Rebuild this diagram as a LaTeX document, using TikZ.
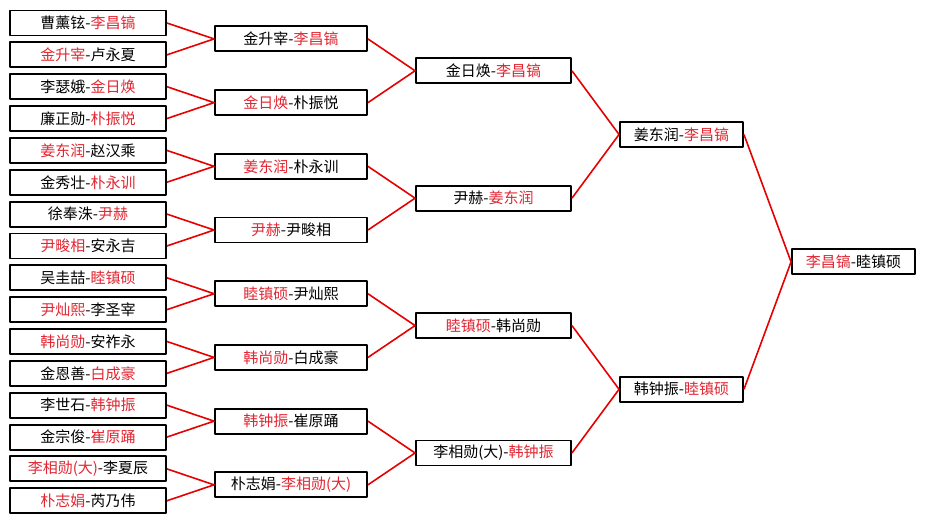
\documentclass[tikz,border=0pt]{standalone}
\usepackage{fontspec}
\setmainfont{Noto Sans CJK SC}

\definecolor{winred}{RGB}{226,38,50}
\definecolor{linered}{RGB}{230,0,0}
\newcommand{\win}[1]{\textcolor{winred}{#1}}

\begin{document}
\begin{tikzpicture}[
		x=1pt, y=-1pt,
		line join=round,
		font=\fontsize{15}{17}\selectfont,
		match/.style={draw=black, line width=1.9pt, fill=white, minimum height=25pt, inner sep=0pt},
		link/.style={draw=linered, line width=1.6pt}
	]
	\useasboundingbox[fill=white] (0,0) rectangle (925,525);
	
	% Parameters
	\def\ystart{23}
	\def\pitch{31.85}
	
	% Round 1
	\foreach \i/\txt in {
		1/{曹薰铉-\win{李昌镐}}, 2/{\win{金升宰}-卢永夏},
		3/{李瑟娥-\win{金日焕}}, 4/{廉正勋-\win{朴振悦}},
		5/{\win{姜东润}-赵汉乘}, 6/{金秀壮-\win{朴永训}},
		7/{徐奉洙-\win{尹赫}}, 8/{\win{尹畯相}-安永吉},
		9/{吴圭喆-\win{睦镇硕}}, 10/{\win{尹灿熙}-李圣宰},
		11/{\win{韩尚勋}-安祚永}, 12/{金恩善-\win{白成豪}},
		13/{李世石-\win{韩钟振}}, 14/{金宗俊-\win{崔原踊}},
		15/{\win{李相勋(大)}-李夏辰}, 16/{\win{朴志娟}-芮乃伟}} {
		\node[match, minimum width=156pt] (r1-\i) at (88,{\ystart+(\i-1)*\pitch}) {\txt};
	}
	
	% Round 2
	\foreach \i/\txt in {
		1/{金升宰-\win{李昌镐}}, 2/{\win{金日焕}-朴振悦},
		3/{\win{姜东润}-朴永训}, 4/{\win{尹赫}-尹畯相},
		5/{\win{睦镇硕}-尹灿熙}, 6/{\win{韩尚勋}-白成豪},
		7/{\win{韩钟振}-崔原踊}, 8/{朴志娟-\win{李相勋(大)}}} {
		\node[match, minimum width=152pt] (r2-\i) at (291,{\ystart+(2*\i-1.5)*\pitch}) {\txt};
	}
	
	% Round 3
	\foreach \i/\txt in {
		1/{金日焕-\win{李昌镐}}, 2/{尹赫-\win{姜东润}},
		3/{\win{睦镇硕}-韩尚勋}, 4/{李相勋(大)-\win{韩钟振}}} {
		\node[match, minimum width=155pt] (r3-\i) at (493.5,{\ystart+(4*\i-2.5)*\pitch}) {\txt};
	}
	
	% Semifinals and final
	\node[match, minimum width=123pt] (r4-1) at (681.5,{\ystart+3.5*\pitch}) {姜东润-\win{李昌镐}};
	\node[match, minimum width=123pt] (r4-2) at (681.5,{\ystart+11.5*\pitch}) {韩钟振-\win{睦镇硕}};
	\node[match, minimum width=123pt] (final) at (853.5,{\ystart+7.5*\pitch}) {\win{李昌镐}-睦镇硕};
	
	% Links
	\foreach \j in {1,...,8} {
		\pgfmathtruncatemacro{\ca}{2*\j-1}
		\pgfmathtruncatemacro{\cb}{2*\j}
		\draw[link] (r1-\ca.east) -- (r2-\j.west) -- (r1-\cb.east);
	}
	\foreach \j in {1,...,4} {
		\pgfmathtruncatemacro{\ca}{2*\j-1}
		\pgfmathtruncatemacro{\cb}{2*\j}
		\draw[link] (r2-\ca.east) -- (r3-\j.west) -- (r2-\cb.east);
	}
	\foreach \j in {1,2} {
		\pgfmathtruncatemacro{\ca}{2*\j-1}
		\pgfmathtruncatemacro{\cb}{2*\j}
		\draw[link] (r3-\ca.east) -- (r4-\j.west) -- (r3-\cb.east);
	}
	\draw[link] (r4-1.east) -- (final.west) -- (r4-2.east);
	
\end{tikzpicture}
\end{document}
